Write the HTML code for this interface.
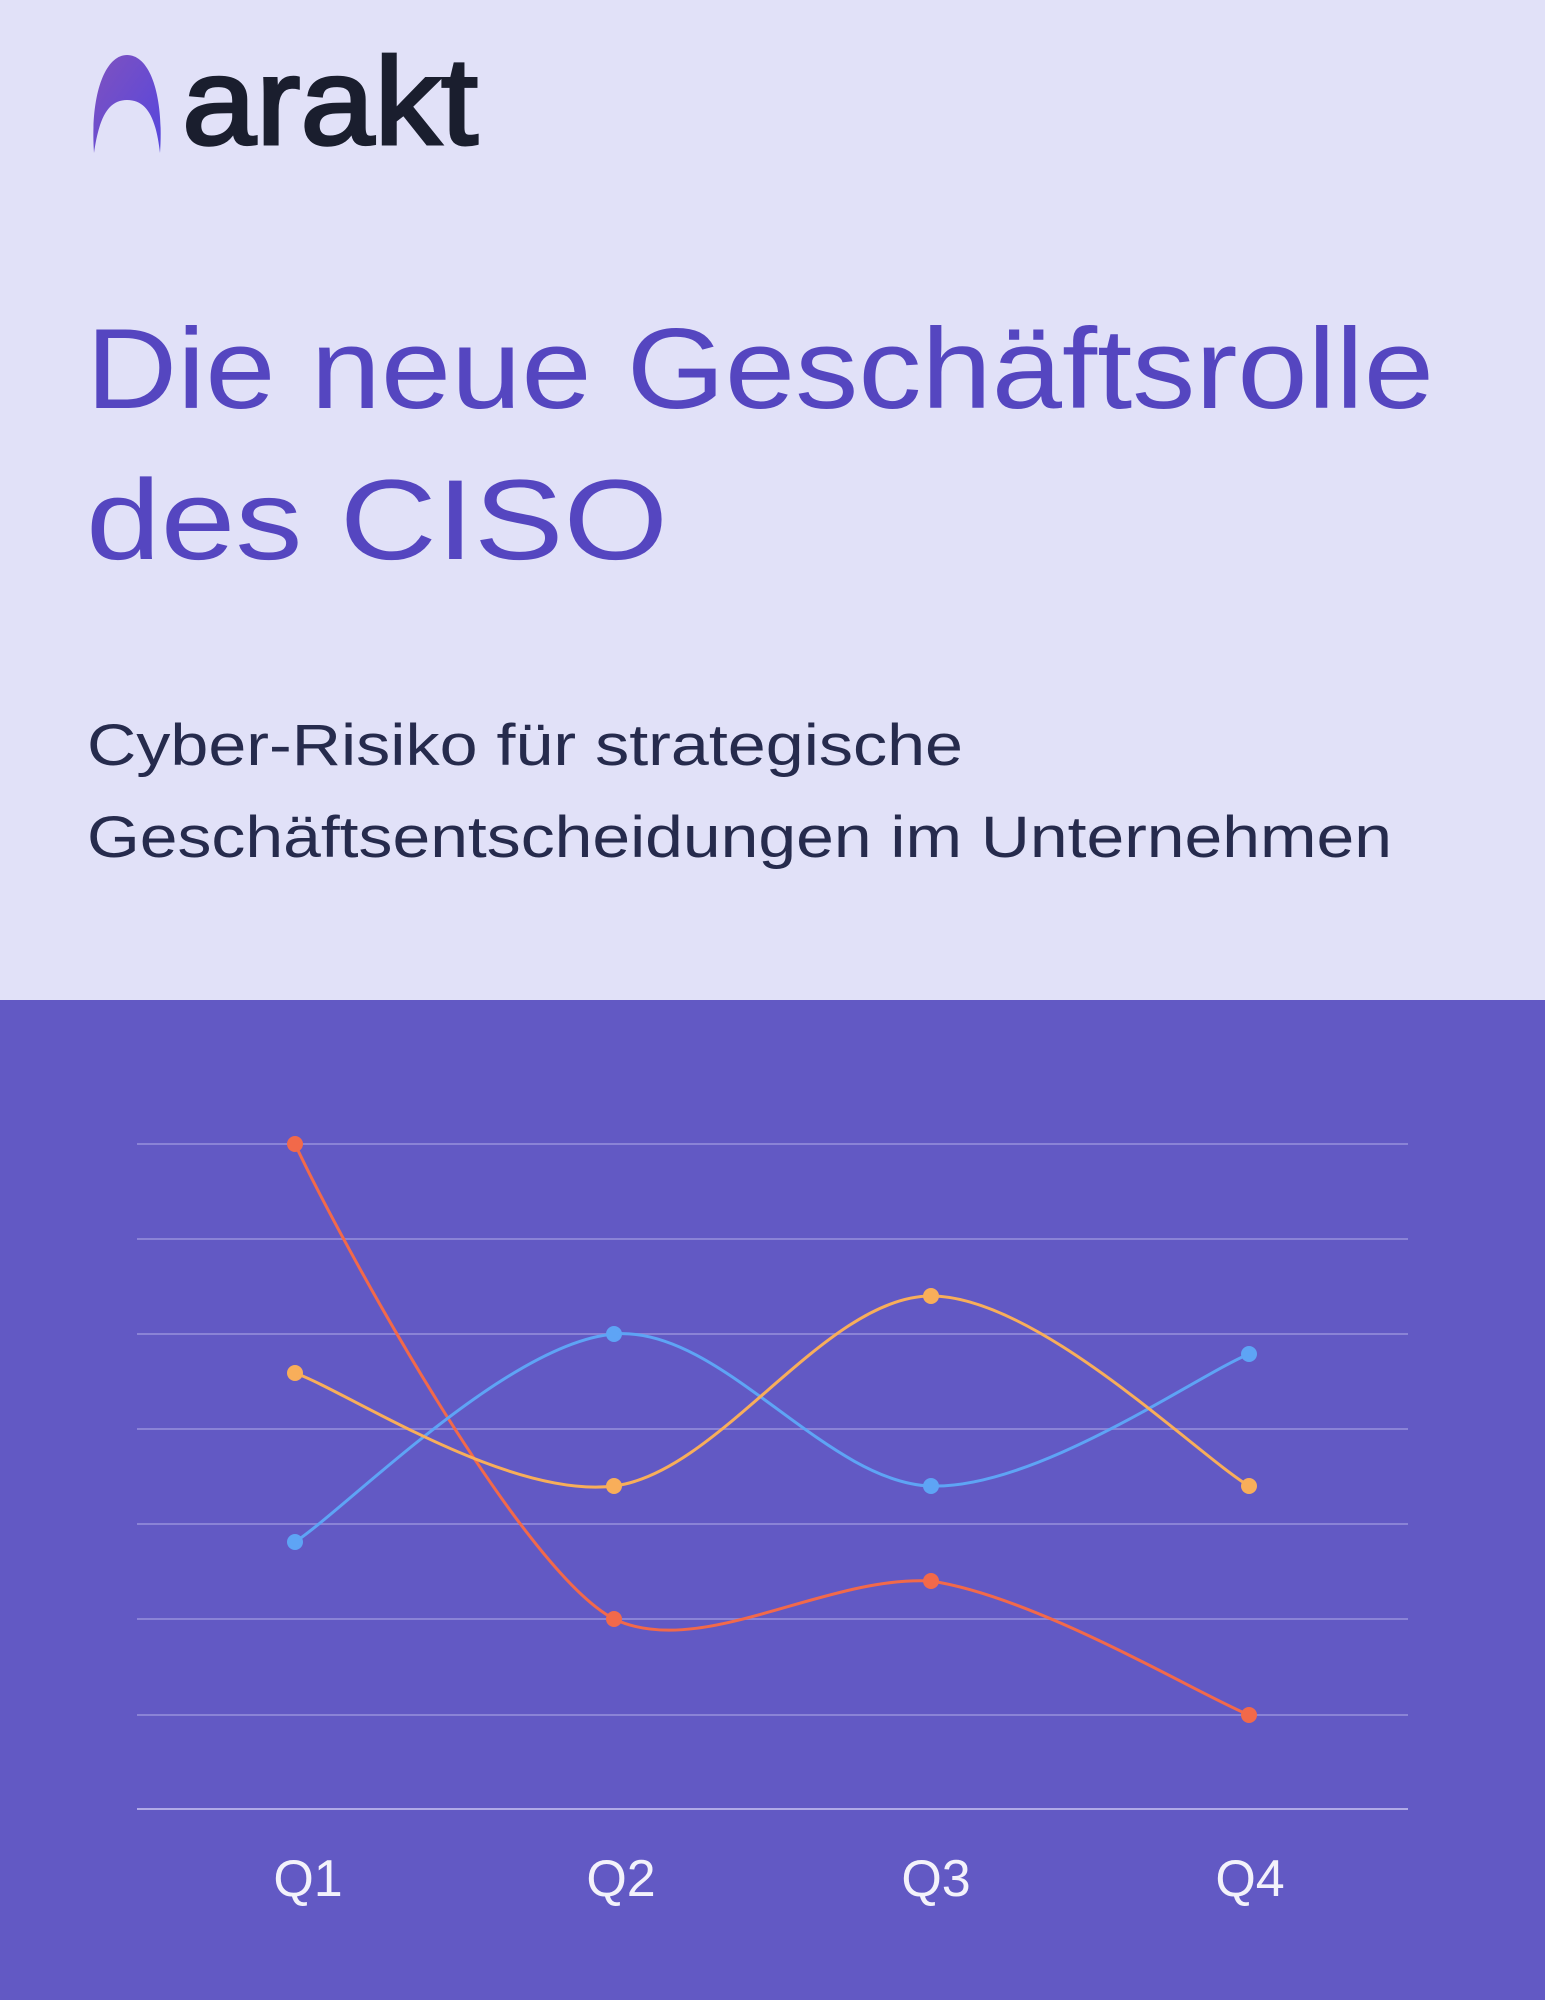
<!DOCTYPE html>
<html><head><meta charset="utf-8"><style>
html,body{margin:0;padding:0;width:1545px;height:2000px;overflow:hidden;background:#e1e1f8}
svg{display:block}
</style></head><body>
<svg width="1545" height="2000" viewBox="0 0 1545 2000" xmlns="http://www.w3.org/2000/svg">
<defs><linearGradient id="g" x1="0" y1="0" x2="1" y2="1"><stop offset="0" stop-color="#7f52bf"/><stop offset="1" stop-color="#5646de"/></linearGradient></defs>
<rect width="1545" height="1000" fill="#e1e1f8"/>
<rect y="1000" width="1545" height="1000" fill="#6259c4"/>
<path d="M94,153 C90,95 105,55 127,55 C150,55 164,95 160,153 C156,118 147,100 127,100 C108,100 99,118 94,153 Z" fill="url(#g)"/>
<text x="182" y="144" font-family="Liberation Sans, sans-serif" font-size="124" fill="#1a1e2e" stroke="#1a1e2e" stroke-width="3" textLength="296" lengthAdjust="spacingAndGlyphs">arakt</text>
<g font-family="Liberation Sans, sans-serif" fill="#5546c0" font-size="114">
<text x="86" y="408" textLength="1348" lengthAdjust="spacingAndGlyphs">Die neue Geschäftsrolle</text>
<text x="86" y="559" textLength="582" lengthAdjust="spacingAndGlyphs">des CISO</text>
</g>
<g font-family="Liberation Sans, sans-serif" fill="#262b4d" font-size="58">
<text x="87" y="765" textLength="876" lengthAdjust="spacingAndGlyphs">Cyber-Risiko für strategische</text>
<text x="87" y="857" textLength="1305" lengthAdjust="spacingAndGlyphs">Geschäftsentscheidungen im Unternehmen</text>
</g>
<g stroke="#8a83d6" stroke-width="2">
<line x1="137" x2="1408" y1="1144" y2="1144"/>
<line x1="137" x2="1408" y1="1239" y2="1239"/>
<line x1="137" x2="1408" y1="1334" y2="1334"/>
<line x1="137" x2="1408" y1="1429" y2="1429"/>
<line x1="137" x2="1408" y1="1524" y2="1524"/>
<line x1="137" x2="1408" y1="1619" y2="1619"/>
<line x1="137" x2="1408" y1="1715" y2="1715"/>
<line x1="137" x2="1408" y1="1809" y2="1809" stroke="#b0aae6"/>
</g>
<g fill="none" stroke-width="3">
<path stroke="#f2694a" d="M295,1144 C340,1240 520,1570 614,1619 C700,1660 825,1575 931,1581 C1037,1597 1196,1693 1249,1715"/>
<path stroke="#5ea4f5" d="M295,1542 C348,1507 508,1343 614,1334 C720,1325 825,1483 931,1486 C1037,1489 1196,1376 1249,1354"/>
<path stroke="#f8ae5a" d="M295,1373 C348,1392 508,1499 614,1486 C720,1473 825,1296 931,1296 C1037,1296 1196,1454 1249,1486"/>
</g>
<g fill="#f2694a"><circle cx="295" cy="1144" r="8"/><circle cx="614" cy="1619" r="8"/><circle cx="931" cy="1581" r="8"/><circle cx="1249" cy="1715" r="8"/></g>
<g fill="#5ea4f5"><circle cx="295" cy="1542" r="8"/><circle cx="614" cy="1334" r="8"/><circle cx="931" cy="1486" r="8"/><circle cx="1249" cy="1354" r="8"/></g>
<g fill="#f8ae5a"><circle cx="295" cy="1373" r="8"/><circle cx="614" cy="1486" r="8"/><circle cx="931" cy="1296" r="8"/><circle cx="1249" cy="1486" r="8"/></g>
<g font-family="Liberation Sans, sans-serif" font-size="52" fill="#f3f2fb" text-anchor="middle">
<text x="308" y="1896">Q1</text><text x="621" y="1896">Q2</text><text x="936" y="1896">Q3</text><text x="1250" y="1896">Q4</text>
</g>
</svg>
</body></html>
